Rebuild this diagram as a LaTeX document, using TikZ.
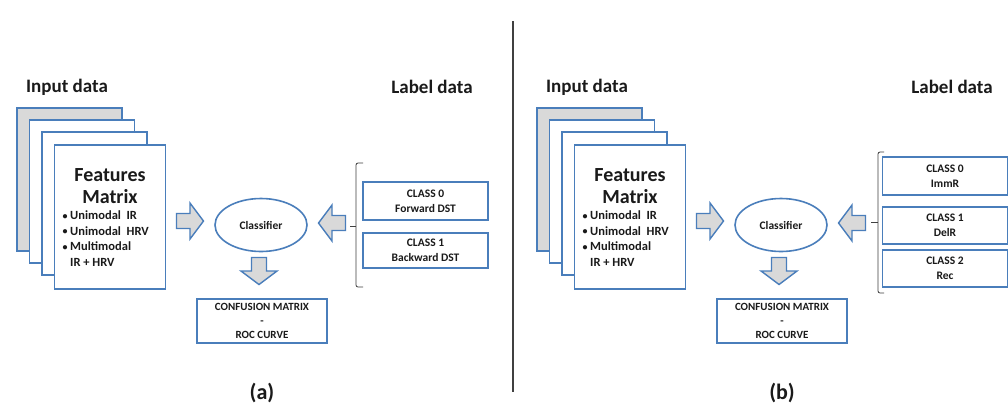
\documentclass[tikz,border=0pt]{standalone}
\usepackage{fontspec}
\setmainfont{Carlito}
\usetikzlibrary{calc,shapes.geometric}
\definecolor{bdr}{HTML}{4A7EBB}
\definecolor{pagegray}{HTML}{D9D9D9}
\definecolor{txt}{HTML}{1A1A1A}
\tikzset{
  page/.style={draw=bdr, line width=1.6pt, fill=white},
  backpage/.style={page, fill=pagegray},
  title/.style={font=\bfseries\fontsize{19}{22}\selectfont, text=txt},
  boxtxt/.style={font=\bfseries\fontsize{11.5}{15}\selectfont, text=txt, align=center},
  classbox/.style={draw=bdr, line width=1.6pt, fill=white, minimum width=125pt, inner sep=0pt},
  clf/.style={draw=bdr, line width=1.6pt, ellipse, minimum width=92pt, minimum height=53pt, inner sep=0pt, font=\bfseries\fontsize{11.5}{14}\selectfont, text=txt},
  blockarrow/.style={draw=bdr, line width=1.4pt, fill=pagegray, line join=miter},
  brace/.style={draw=black!75, line width=0.8pt},
  capt/.style={font=\bfseries\fontsize{22}{24}\selectfont, text=txt},
}
\newcommand\bulitem{\makebox[0pt][r]{\raisebox{0.5pt}{\fontsize{10}{10}\selectfont•}\hspace{2.5pt}}}
% right-pointing block arrow centred at the current point
\tikzset{rarrow/.pic={\path[blockarrow] (-13.5,-7.5) -- (0,-7.5) -- (0,-18) -- (13.5,0) -- (0,18) -- (0,7.5) -- (-13.5,7.5) -- cycle;}}
\begin{document}
\begin{tikzpicture}[x=1pt,y=-1pt]
\useasboundingbox (0,0) rectangle (1008,408);
\fill[white] (0,0) rectangle (1008,408);

% separator
\draw[black!75, line width=2pt] (513,21) coordinate (septop) -- (513,392) coordinate (sepbot);

\foreach \dx/\lab in {0/a,520/b}{
\begin{scope}[xshift=\dx pt]
  \node[title] (in-\lab) at (67,87) {Input data};
  \node[title] (ld-\lab) at (432,87) {Label data};
  % stacked pages
  \draw[backpage] (17,108) rectangle (122,251);
  \draw[page] (29.5,120) rectangle (134.5,263);
  \draw[page] (42,132) rectangle (147,275);
  \draw[page] (54.5,145) rectangle (165.5,289);
  \node[font=\bfseries\fontsize{20}{22}\selectfont, text=txt, align=center] (fm-\lab) at (110,186) {Features\\Matrix};
  \node[font=\bfseries\fontsize{12.5}{15.5}\selectfont, text=txt, align=left, anchor=north west, inner sep=0pt] (bl-\lab) at (70,211) {\bulitem Unimodal\ \ IR\\\bulitem Unimodal\ \ HRV\\\bulitem Multimodal\\IR + HRV};
  % classifier
  \node[clf] (clf-\lab) at (261,225) {Classifier};
  \pic at (190,221) {rarrow};
  \pic[rotate=180] at (332,223) {rarrow};
  \pic[rotate=-90] at (259,271) {rarrow};
  \node[draw=bdr, line width=1.6pt, minimum width=130pt, minimum height=44pt, inner sep=0pt, boxtxt, font=\bfseries\fontsize{11}{14}\selectfont] (cm-\lab) at (262,321) {CONFUSION MATRIX\\-\\ROC CURVE};
  \node[capt] (cap-\lab) at (262,393) {(\lab)};
\end{scope}}

% class boxes panel (a)
\node[classbox, minimum height=38pt, boxtxt] (c0a) at (425.5,201) {CLASS 0\\Forward DST};
\node[classbox, minimum height=35pt, boxtxt] (c1a) at (425.5,250.5) {CLASS 1\\Backward DST};
\draw[brace, rounded corners=2pt] (363,163) -- (356,163) -- (356,287) -- (363,287);
\draw[brace] (356,226) -- (350,226);

% class boxes panel (b)
\node[classbox, minimum height=38pt, boxtxt] (c0b) at (945,176) {CLASS 0\\ImmR};
\node[classbox, minimum height=37pt, boxtxt] (c1b) at (945,225.5) {CLASS 1\\DelR};
\node[classbox, minimum height=37pt, boxtxt] (c2b) at (945,268.5) {CLASS 2\\Rec};
\draw[brace, rounded corners=2pt] (884,152) -- (878,152) -- (878,293) -- (884,293);
\draw[brace] (878,222) -- (871,222);
\end{tikzpicture}
\end{document}
